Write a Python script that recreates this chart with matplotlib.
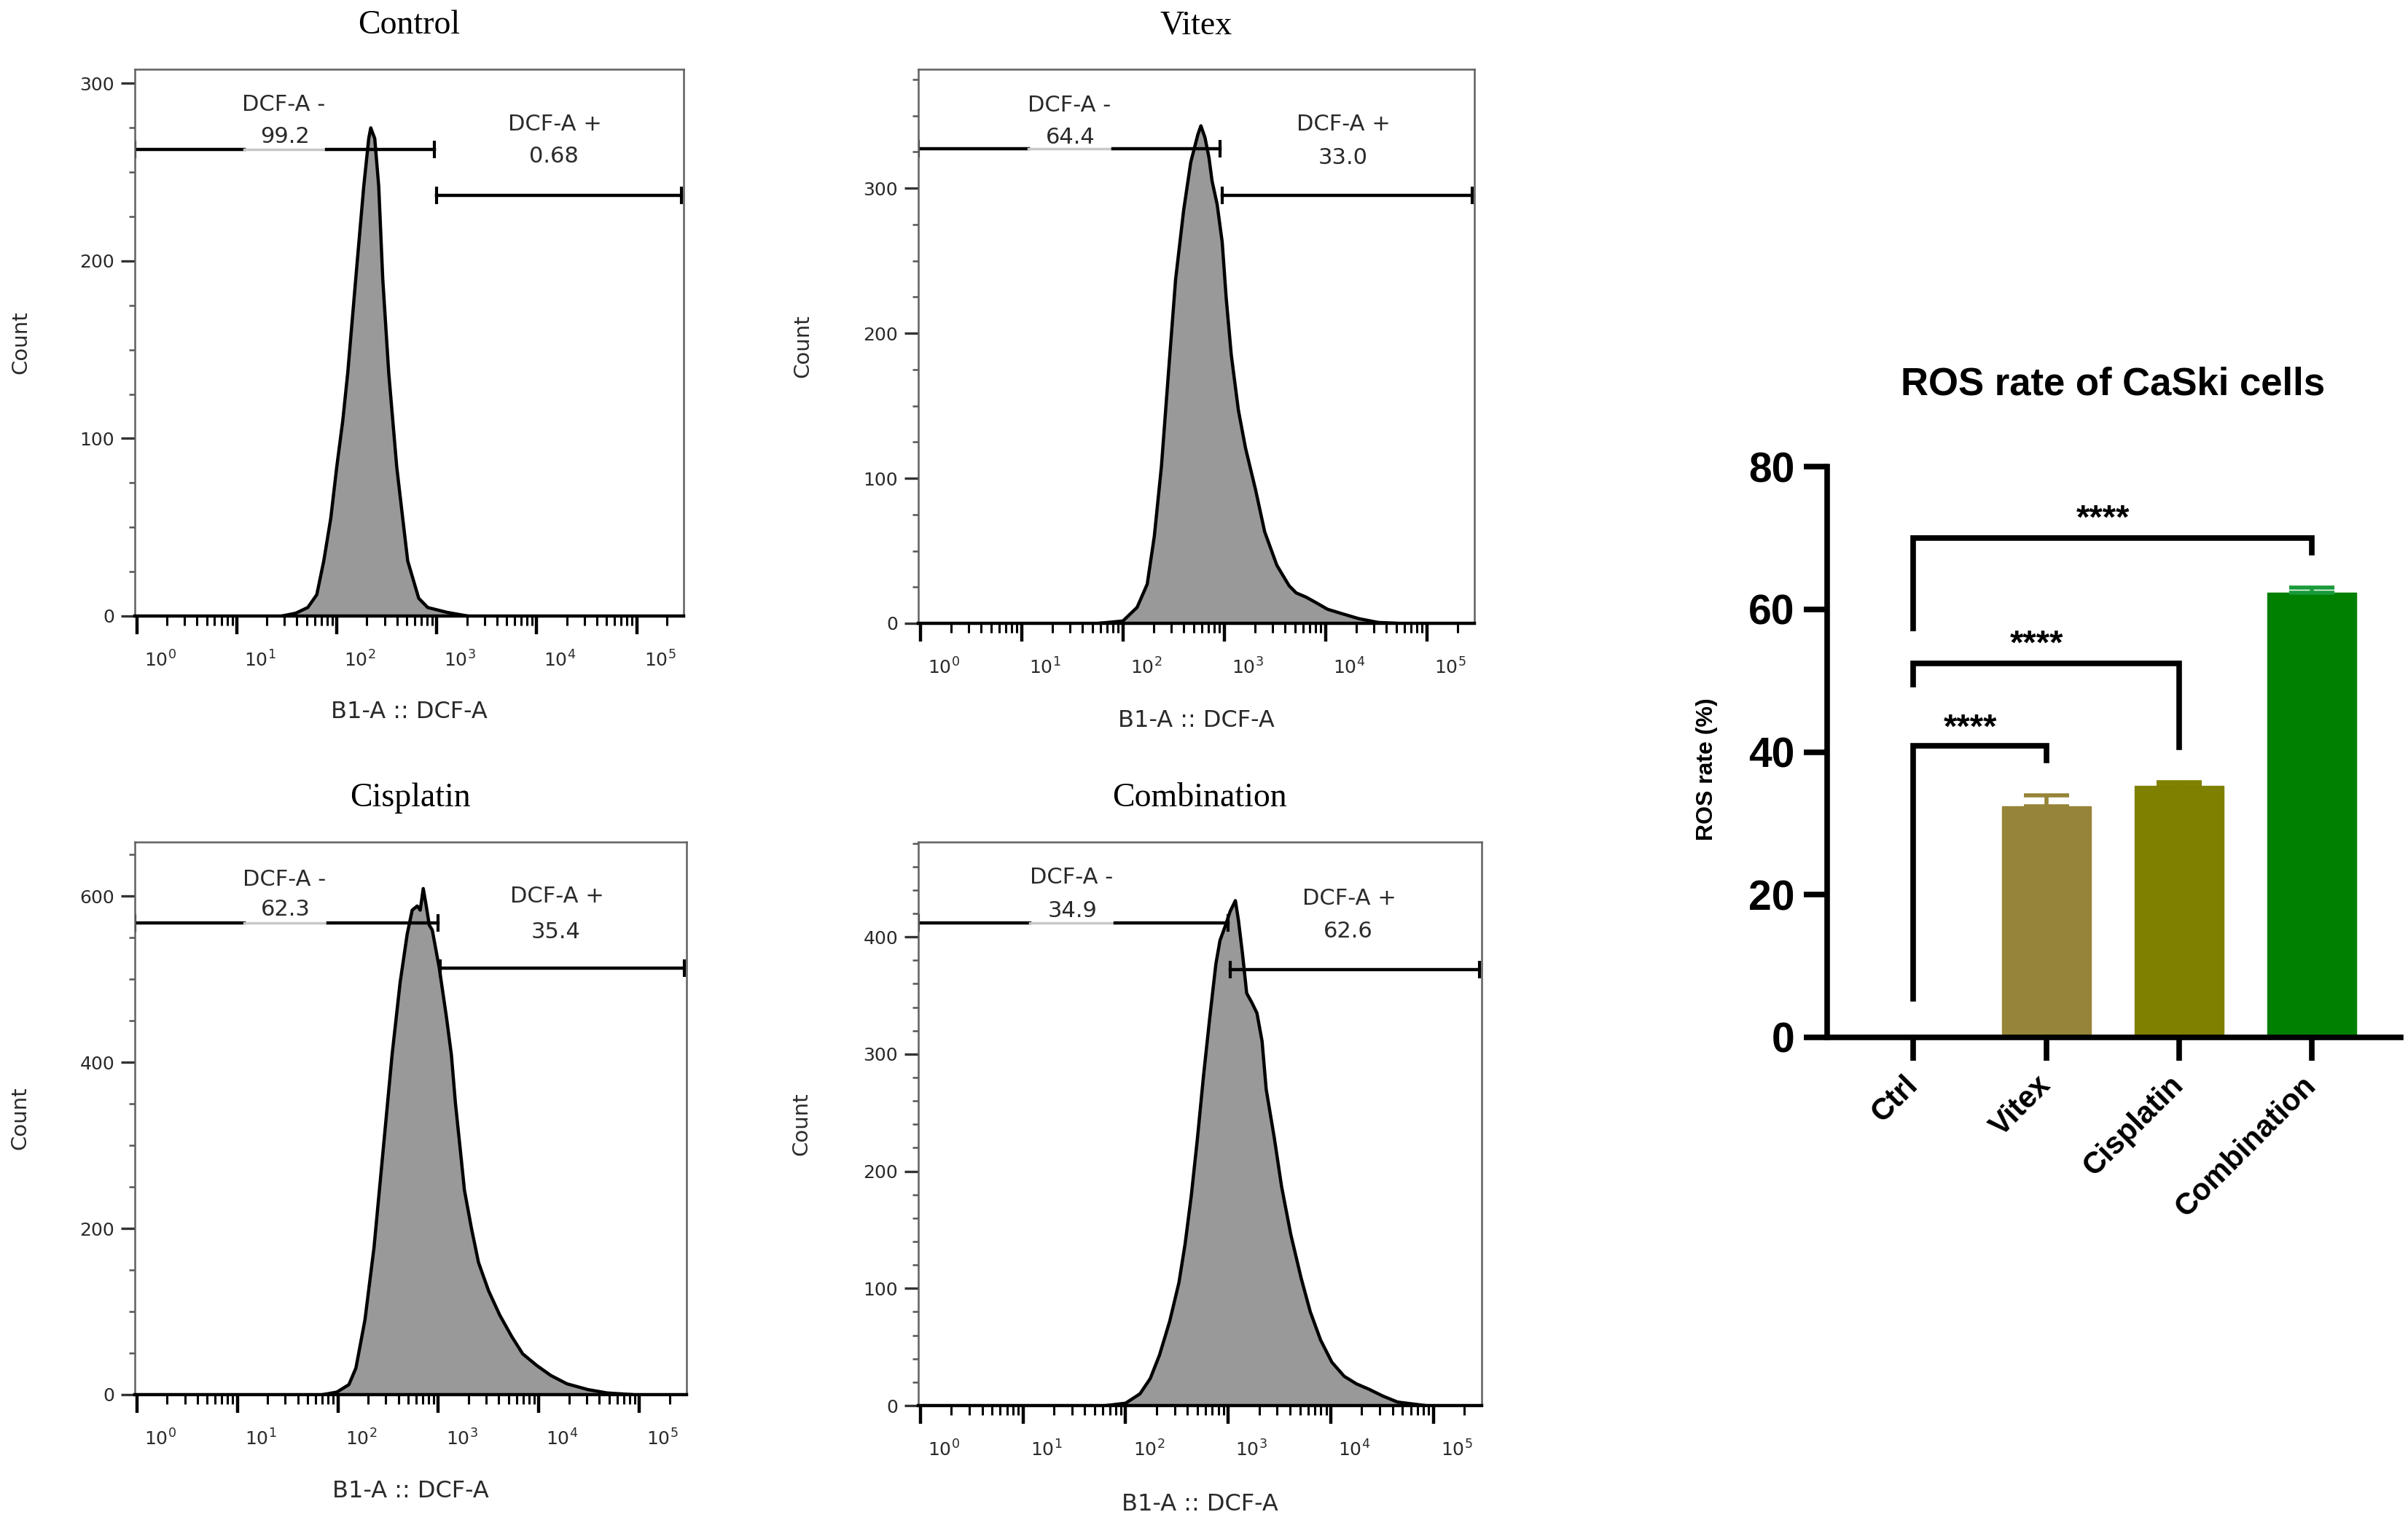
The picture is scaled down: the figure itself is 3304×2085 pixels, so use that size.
import matplotlib.pyplot as plt
import matplotlib.transforms as mtransforms
from matplotlib.ticker import LogLocator, MultipleLocator, NullFormatter
import numpy as np

# ---- flow cytometry histograms (x = log10 B1-A intensity, y = count) ----
ctrl_logx = [1.45, 1.59, 1.71, 1.80, 1.87, 1.94, 2.00, 2.06, 2.11, 2.19, 2.27, 2.32,
             2.34, 2.38, 2.42, 2.46, 2.52, 2.60, 2.66, 2.71, 2.82, 2.91, 3.10, 3.31]
ctrl_count = [0, 1.6, 4.8, 12, 31, 55, 84, 110, 137, 190, 242, 269,
              275, 269, 242, 190, 137, 84, 55, 31, 10, 4.8, 2.1, 0]

vitex_logx = [1.76, 2.00, 2.14, 2.24, 2.31, 2.38, 2.45, 2.52, 2.60, 2.67, 2.74, 2.77,
              2.81, 2.85, 2.88, 2.93, 2.98, 3.02, 3.07, 3.14, 3.21, 3.31, 3.40, 3.52,
              3.64, 3.71, 3.81, 3.90, 4.02, 4.17, 4.33, 4.52, 4.70]
vitex_count = [0, 1.6, 11, 27, 60, 108, 173, 237, 285, 318, 337, 343,
               335, 321, 305, 289, 263, 224, 185, 147, 121, 92, 63, 40,
               26, 21, 18, 14.5, 9.7, 6.5, 3.2, 0.6, 0]

cis_logx = [1.85, 1.99, 2.11, 2.18, 2.27, 2.36, 2.45, 2.54, 2.62, 2.69, 2.74, 2.79,
            2.82, 2.85, 2.88, 2.91, 2.94, 3.01, 3.08, 3.13, 3.17, 3.22, 3.26, 3.33,
            3.40, 3.50, 3.61, 3.73, 3.84, 3.98, 4.12, 4.28, 4.49, 4.68, 4.93]
cis_count = [0, 3, 12, 32, 90, 177, 293, 409, 496, 554, 583, 588,
             583, 609, 588, 565, 559, 513, 455, 409, 351, 293, 246, 200,
             159, 125, 96, 70, 49, 35, 23, 13, 6, 2, 0]

comb_logx = [1.81, 2.00, 2.14, 2.24, 2.33, 2.43, 2.52, 2.58, 2.64, 2.70, 2.76, 2.82,
             2.88, 2.92, 2.97, 3.02, 3.07, 3.10, 3.14, 3.18, 3.23, 3.28, 3.33, 3.37,
             3.45, 3.52, 3.61, 3.71, 3.80, 3.90, 4.01, 4.13, 4.25, 4.37, 4.51, 4.65, 4.92]
comb_count = [0, 2, 10, 23, 43, 72, 105, 138, 179, 228, 282, 331,
              377, 397, 409, 422, 431, 414, 385, 352, 344, 335, 311, 270,
              228, 187, 146, 109, 80, 56, 37, 25, 18.5, 14, 8, 3, 0]

flow_titles = ['Control', 'Vitex', 'Cisplatin', 'Combination']
flow_ytop = [308, 382, 665, 481]
flow_ymajor = [100, 100, 200, 100]
flow_yminor = [25, 25, 50, 20]
# gates: DCF-A - (left) and DCF-A + (right)
gate_split = [2.98, 2.96, 3.00, 3.00]
neg_gate_y = [263, 327, 568, 412]
pos_gate_y = [237, 295, 513, 372]
neg_pct = ['99.2', '64.4', '62.3', '34.9']
pos_pct = ['0.68', '33.0', '35.4', '62.6']
neg_text_y = [(288, 270), (357, 335), (620, 584), (451, 422)]
pos_text_y = [(277, 259), (344, 321), (600, 557), (433, 405)]

# ---- ROS bar chart ----
groups = ['Ctrl', 'Vitex', 'Cisplatin', 'Combination']
ros_mean = [0.3, 32.4, 35.2, 62.3]
ros_err = [0.0, 1.5, 0.6, 0.7]
bar_colors = ['#222222', '#968438', '#808000', '#008000']
err_colors = ['#222222', '#968438', '#808000', '#1a9a3a']
# brackets: (group a, group b, top y, leg a bottom, leg b bottom, star x, star y)
brackets = [(0, 1, 40.9, 5.4, 38.8, 0.43, 44.8),
            (0, 2, 52.4, 49.4, 40.7, 0.93, 56.6),
            (0, 3, 70.0, 57.3, 67.9, 1.43, 74.1)]

W, H = 3304, 2085
fig = plt.figure(figsize=(W / 100, H / 100), dpi=100)


def px_rect(left, top, right, bottom):
    return [left / W, 1 - bottom / H, (right - left) / W, (bottom - top) / H]


flow_rects = [px_rect(185, 95, 938, 845), px_rect(1260, 95, 2023, 855),
              px_rect(185, 1155, 942, 1913), px_rect(1260, 1155, 2033, 1928)]
flow_data = [(ctrl_logx, ctrl_count), (vitex_logx, vitex_count),
             (cis_logx, cis_count), (comb_logx, comb_count)]

flow_font = 'DejaVu Sans'
txt_col = '#2a2a2a'
for k in range(4):
    ax = fig.add_axes(flow_rects[k])
    lx, cnt = flow_data[k]
    xs = 10 ** np.array(lx)
    ax.fill_between(xs, cnt, 0, color='#999999', lw=0)
    ax.plot(xs, cnt, color='black', lw=3.2)

    ax.set_xscale('log')
    ax.set_xlim(10 ** -0.02, 10 ** 5.47)
    ax.set_ylim(0, flow_ytop[k])

    # gates
    s = gate_split[k]
    yn = neg_gate_y[k]
    yp = pos_gate_y[k]
    ax.plot([10 ** -0.02, 10 ** 1.07], [yn, yn], color='black', lw=3.2)
    ax.plot([10 ** 1.07, 10 ** 1.90], [yn, yn], color='#c8c8c8', lw=2.5)
    ax.plot([10 ** 1.90, 10 ** s], [yn, yn], color='black', lw=3.2)
    ax.plot([10 ** -0.02, 10 ** s], [yn, yn], ls='none', marker='|',
            ms=17, mew=3, color='black')
    ax.plot([10 ** (s + 0.02), 10 ** 5.45], [yp, yp], color='black', lw=3.2,
            marker='|', ms=17, mew=3)
    ax.text(10 ** 1.47, neg_text_y[k][0], 'DCF-A -', ha='center', va='center',
            fontsize=22, family=flow_font, color=txt_col)
    ax.text(10 ** 1.48, neg_text_y[k][1], neg_pct[k], ha='center', va='center',
            fontsize=22, family=flow_font, color=txt_col)
    ax.text(10 ** 4.18, pos_text_y[k][0], 'DCF-A +', ha='center', va='center',
            fontsize=22, family=flow_font, color=txt_col)
    ax.text(10 ** 4.17, pos_text_y[k][1], pos_pct[k], ha='center', va='center',
            fontsize=22, family=flow_font, color=txt_col)

    # axes styling
    for side in ['top', 'right', 'left']:
        ax.spines[side].set_color('#606060')
        ax.spines[side].set_linewidth(1.8)
    ax.spines['bottom'].set_color('black')
    ax.spines['bottom'].set_linewidth(3.2)

    ax.set_xticks([10 ** i for i in range(6)])
    ax.set_xticklabels(['$10^{%d}$' % i for i in range(6)])
    ax.xaxis.set_minor_locator(LogLocator(base=10, subs=np.arange(2, 10), numticks=20))
    ax.xaxis.set_minor_formatter(NullFormatter())
    ax.tick_params(axis='x', which='major', length=18, width=3.2, pad=16,
                   labelsize=18, labelcolor=txt_col)
    ax.tick_params(axis='x', which='minor', length=9, width=2.2)
    offset = mtransforms.ScaledTranslation(0.32, 0, fig.dpi_scale_trans)
    for lab in ax.get_xticklabels():
        lab.set_transform(lab.get_transform() + offset)

    ax.yaxis.set_major_locator(MultipleLocator(flow_ymajor[k]))
    ax.yaxis.set_minor_locator(MultipleLocator(flow_yminor[k]))
    ax.tick_params(axis='y', which='major', length=14, width=2.4, pad=6,
                   labelsize=18, labelcolor=txt_col, color='#333333')
    ax.tick_params(axis='y', which='minor', length=6, width=1.8, color='#555555')

    ax.set_xlabel('B1-A :: DCF-A', fontsize=23, family=flow_font, color=txt_col)
    ax.xaxis.set_label_coords(0.5, -0.155)
    ax.set_ylabel('Count', fontsize=21, family=flow_font, color=txt_col)
    ax.yaxis.set_label_coords(-0.19, 0.5)
    ax.set_title(flow_titles[k], fontsize=33, family='Liberation Serif', pad=35)

# ---- bar chart ----
bold_font = 'Liberation Sans'
axb = fig.add_axes(px_rect(2507, 640, 3294, 1423))
xpos = np.arange(len(groups))
axb.bar(xpos, ros_mean, width=0.67, color=bar_colors, edgecolor=bar_colors, lw=1)
for i in range(1, len(groups)):
    axb.errorbar(xpos[i], ros_mean[i], yerr=[[0], [ros_err[i]]], fmt='none',
                 ecolor=err_colors[i], elinewidth=4, capsize=22, capthick=4)

for a, b, y, la, lb, sx, sy in brackets:
    axb.plot([xpos[a], xpos[a], xpos[b], xpos[b]], [la, y, y, lb],
             color='black', lw=5.5, solid_joinstyle='miter')
    axb.text(sx, sy - 2.8, '****', ha='center', va='baseline', fontsize=34,
             weight='bold', family=bold_font)

axb.set_xlim(-0.65, 3.67)
axb.set_ylim(0, 80)
axb.set_yticks([0, 20, 40, 60, 80])
axb.set_xticks(xpos)
axb.set_xticklabels(groups, rotation=45, ha='right', va='center',
                    rotation_mode='anchor', fontsize=30, weight='bold',
                    family=bold_font)
for lab in axb.get_yticklabels():
    lab.set_fontsize(41)
    lab.set_fontweight('bold')
    lab.set_family(bold_font)
axb.spines['top'].set_visible(False)
axb.spines['right'].set_visible(False)
axb.spines['left'].set_linewidth(5.5)
axb.spines['bottom'].set_linewidth(5.5)
axb.tick_params(axis='y', length=23, width=5.5, pad=9)
axb.tick_params(axis='x', length=23, width=5.5, pad=20)
axb.set_ylabel('ROS rate (%)', fontsize=23, weight='bold', family=bold_font)
axb.yaxis.set_label_coords(-0.19, 0.47)
fig.text(2899 / W, 1 - 527 / H, 'ROS rate of CaSki cells', ha='center',
         va='center', fontsize=38, weight='bold', family=bold_font)

fig.savefig('out.png', dpi=100, facecolor='white')
